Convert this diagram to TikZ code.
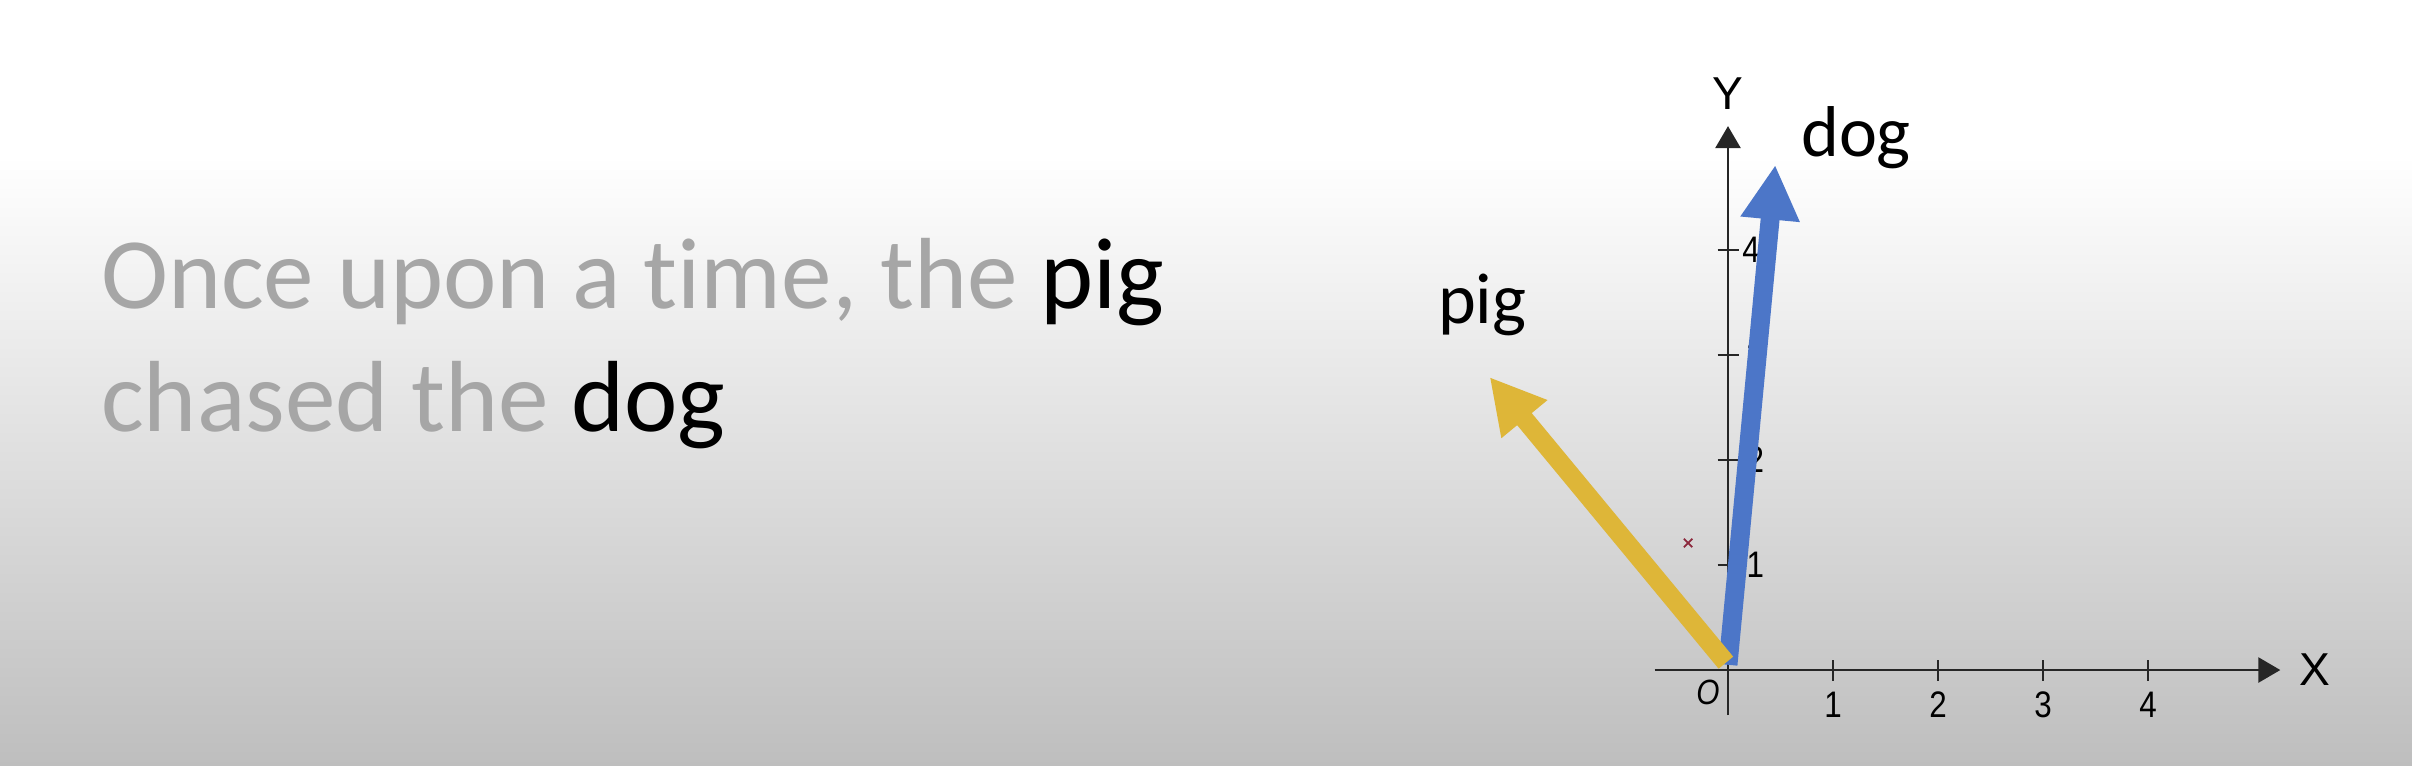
\documentclass[tikz,border=0pt]{standalone}
\usepackage{fontspec}
\setmainfont{Carlito}[Ligatures=NoCommon]
\newfontfamily\axisfont{Liberation Sans}
\usetikzlibrary{arrows.meta}
\usetikzlibrary{positioning}
\definecolor{dogblue}{RGB}{76,118,200}
\definecolor{piggold}{RGB}{222,182,56}
\definecolor{fadedtext}{RGB}{166,166,166}
\definecolor{slidegray}{RGB}{190,190,190}
\definecolor{markred}{RGB}{140,40,60}
\tikzset{
storyline/.style={
inner sep=0,
text=fadedtext,
font=\fontsize{27.4}{33}\selectfont},
word/.style={
inner sep=0,
font=\fontsize{19.5}{23}\selectfont},
axisline/.style={
draw=black!85,
line width=0.6pt,
-{Triangle[length=2.1mm,width=2.4mm]}},
axistick/.style={
draw=black!85,
line width=0.6pt},
axislabel/.style={
inner sep=0,
font=\axisfont\fontsize{12.5}{15}\selectfont},
ticklabel/.style={
inner sep=0,
xscale=0.85,
font=\axisfont\fontsize{10}{12}\selectfont},
vector/.style={
line width=1.8mm,
-{Triangle[length=5.2mm,width=5.3mm]}}}

\begin{document}
\begin{tikzpicture}
\useasboundingbox (-16.457,-0.914) rectangle (6.514,6.381);
\fill[white] (-16.457,4.9) rectangle (6.514,6.381);
\shade[top color=white, bottom color=slidegray] (-16.457,-0.914) rectangle (6.514,4.9);
% the sentence
\node[storyline, anchor=base west] (line1) at (-15.50,3.44) {Once upon a time, the \textcolor{black}{pig}};
\node[storyline, anchor=base west] (line2) at (-15.50,2.27) {chased the \textcolor{black}{dog}};
% axes
\coordinate (o) at (0,0);
\coordinate (xstart) at (-0.70,0);
\coordinate (xend) at (5.26,0);
\coordinate (ystart) at (0,-0.43);
\coordinate (yend) at (0,5.18);
\draw[axisline] (xstart) -- (xend);
\draw[axisline] (ystart) -- (yend);
\node[axislabel, right=0.18cm of xend] (xlabel) {X};
\node[axislabel, above=0.15cm of yend] (ylabel) {Y};
\node[ticklabel, font=\axisfont\itshape\fontsize{9.5}{11}\selectfont] (olabel) at (-0.19,-0.21) {O};
\draw[axistick] (1,-0.1) -- (1,0.1);
\draw[axistick] (2,-0.1) -- (2,0.1);
\draw[axistick] (3,-0.1) -- (3,0.1);
\draw[axistick] (4,-0.1) -- (4,0.1);
\draw[axistick] (-0.1,1) -- (0.1,1);
\draw[axistick] (-0.1,2) -- (0.1,2);
\draw[axistick] (-0.1,3) -- (0.1,3);
\draw[axistick] (-0.1,4) -- (0.1,4);
\node[ticklabel] (x1) at (1,-0.33) {1};
\node[ticklabel] (x2) at (2,-0.33) {2};
\node[ticklabel] (x3) at (3,-0.33) {3};
\node[ticklabel] (x4) at (4,-0.33) {4};
\node[ticklabel] (y1) at (0.26,1) {1};
\node[ticklabel] (y2) at (0.26,2) {2};
\node[ticklabel] (y3) at (0.26,3) {3};
\node[ticklabel] (y4) at (0.22,4) {4};
% word vectors
\coordinate (dogstart) at (0,0.05);
\coordinate (dogtip) at (0.45,4.81);
\coordinate (pigstart) at (-0.02,0.07);
\coordinate (pigtip) at (-2.27,2.79);
\draw[vector, dogblue] (dogstart) -- (dogtip);
\draw[vector, piggold] (pigstart) -- (pigtip);
\node[word, anchor=base] (dog) at (1.22,4.886) {dog};
\node[word, anchor=base] (pig) at (-2.34,3.30) {pig};
\draw[markred, line width=0.5pt] (-0.42,1.17) -- (-0.34,1.25) (-0.42,1.25) -- (-0.34,1.17);
\end{tikzpicture}
\end{document}
